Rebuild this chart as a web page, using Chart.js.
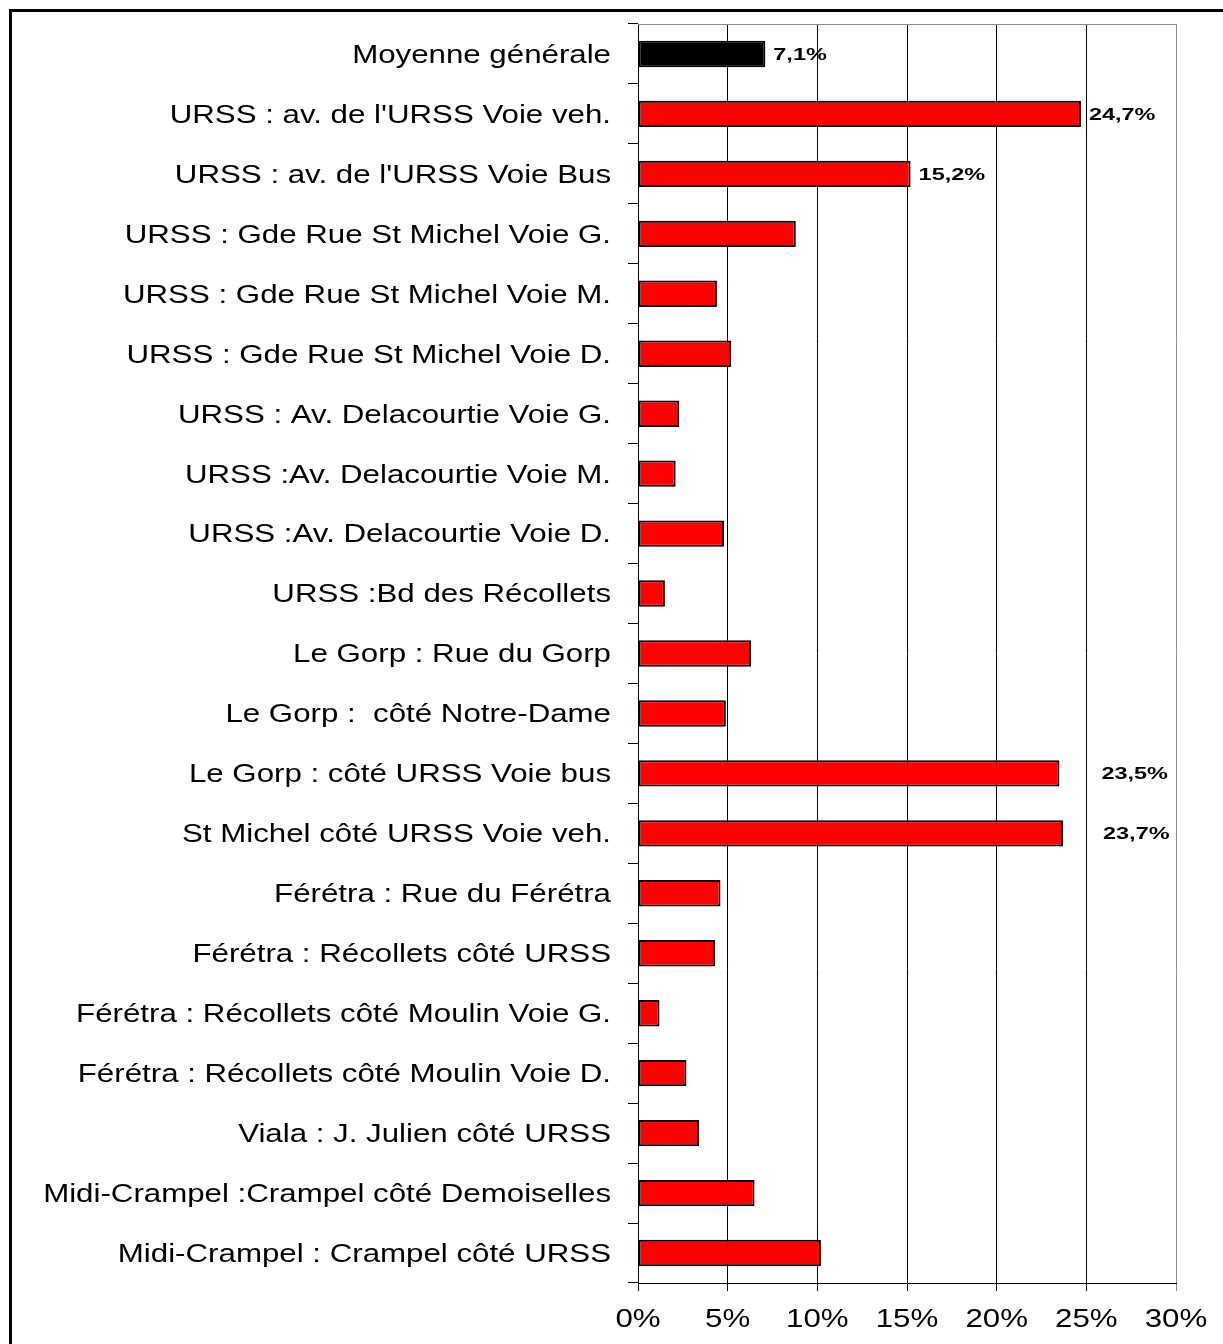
<!DOCTYPE html>
<html lang="fr">
<head>
  <meta charset="UTF-8" />
  <title>Part par point de mesure</title>
  <script src="https://cdn.jsdelivr.net/npm/chart.js"></script>
  <style>
    html, body {
      margin: 0;
      padding: 0;
      background: #fff;
    }
    canvas {
      display: block;
    }
  </style>
</head>
<body>
  <canvas id="partChart" width="1223" height="1344"></canvas>

  <script>
    const categories = [
      "Moyenne générale",
      "URSS : av. de l'URSS Voie veh.",
      "URSS : av. de l'URSS Voie Bus",
      "URSS : Gde Rue St Michel Voie G.",
      "URSS : Gde Rue St Michel Voie M.",
      "URSS : Gde Rue St Michel Voie D.",
      "URSS : Av. Delacourtie Voie G.",
      "URSS :Av. Delacourtie Voie M.",
      "URSS :Av. Delacourtie Voie D.",
      "URSS :Bd des Récollets",
      "Le Gorp : Rue du Gorp",
      "Le Gorp :  côté Notre-Dame",
      "Le Gorp : côté URSS Voie bus",
      "St Michel côté URSS Voie veh.",
      "Férétra : Rue du Férétra",
      "Férétra : Récollets côté URSS",
      "Férétra : Récollets côté Moulin Voie G.",
      "Férétra : Récollets côté Moulin Voie D.",
      "Viala : J. Julien côté URSS",
      "Midi-Crampel :Crampel côté Demoiselles",
      "Midi-Crampel : Crampel côté URSS"
    ];
    const values = [7.1, 24.7, 15.2, 8.8, 4.4, 5.2, 2.3, 2.1, 4.8, 1.5, 6.3,
                    4.9, 23.5, 23.7, 4.6, 4.3, 1.2, 2.7, 3.4, 6.5, 10.2];
    const valueLabels = ["7,1%", "24,7%", "15,2%", null, null, null, null, null, null, null, null,
                         null, "23,5%", "23,7%", null, null, null, null, null, null, null];
    const xTicks = [0, 5, 10, 15, 20, 25, 30];

    const barColors = values.map((v, i) => i === 0 ? "#000000" : "#ff0000");

    // Excel-like wide text: Arial-ish font stretched horizontally
    function wideText(ctx, text, x, y, align, sx) {
      ctx.save();
      ctx.translate(x, y);
      ctx.scale(sx, 1);
      ctx.textAlign = align;
      ctx.textBaseline = "middle";
      ctx.fillText(text, 0, 0);
      ctx.restore();
    }

    const textPlugin = {
      id: "textPlugin",
      beforeDraw(chart) {
        const ctx = chart.ctx;
        ctx.save();
        ctx.fillStyle = "#fff";
        ctx.fillRect(0, 0, chart.width, chart.height);
        ctx.restore();
      },
      afterDraw(chart) {
        const ctx = chart.ctx;
        const area = chart.chartArea;
        const xs = chart.scales.x;
        const ys = chart.scales.y;
        ctx.save();

        // plot area top border (grey)
        ctx.strokeStyle = "#8c8c8c";
        ctx.lineWidth = 1;
        ctx.beginPath();
        ctx.moveTo(area.left, Math.round(area.top) + 0.5);
        ctx.lineTo(area.right, Math.round(area.top) + 0.5);
        ctx.stroke();

        // outer frame (left + top)
        ctx.strokeStyle = "#000";
        ctx.lineWidth = 3;
        ctx.beginPath();
        ctx.moveTo(10.5, chart.height);
        ctx.lineTo(10.5, 10.5);
        ctx.lineTo(chart.width, 10.5);
        ctx.stroke();

        ctx.fillStyle = "#000";

        // category labels
        ctx.font = "25px 'Liberation Sans', Arial, sans-serif";
        categories.forEach((c, i) => {
          wideText(ctx, c, 611, ys.getPixelForValue(i) + 2, "right", 1.25);
        });

        // x tick labels
        xTicks.forEach(v => {
          wideText(ctx, v + "%", xs.getPixelForValue(v), 1320, "center", 1.25);
        });

        // value labels
        const nudge = { 12: 34, 13: 32 };
        ctx.font = "bold 17px 'Liberation Sans', Arial, sans-serif";
        valueLabels.forEach((t, i) => {
          if (!t) return;
          const x = xs.getPixelForValue(values[i]) + 8 + (nudge[i] || 0);
          wideText(ctx, t, x, ys.getPixelForValue(i) + 1, "left", 1.38);
        });

        ctx.restore();
      }
    };

    new Chart(document.getElementById("partChart"), {
      type: "bar",
      data: {
        labels: categories,
        datasets: [{
          data: values,
          backgroundColor: barColors,
          borderColor: "#000",
          borderWidth: 2,
          borderSkipped: false,
          barPercentage: 0.44,
          categoryPercentage: 1
        }]
      },
      options: {
        indexAxis: "y",
        responsive: false,
        animation: false,
        devicePixelRatio: 1,
        layout: { padding: { top: 24, right: 47, left: 0, bottom: 0 } },
        scales: {
          x: {
            min: 0,
            max: 30,
            ticks: { stepSize: 5, display: false },
            grid: {
              color: ctx => ctx.tick && ctx.tick.value === 30 ? "#8c8c8c" : "#000",
              lineWidth: 1,
              tickLength: 8,
              drawTicks: true
            },
            border: { color: "#000", width: 1 },
            afterFit(scale) { scale.height = 61; }
          },
          y: {
            ticks: { display: false },
            grid: {
              offset: true,
              drawOnChartArea: false,
              drawTicks: true,
              tickLength: 10,
              color: "#000"
            },
            border: { color: "#000", width: 1 },
            afterFit(scale) { scale.width = 638; }
          }
        },
        plugins: {
          legend: { display: false },
          tooltip: { enabled: false }
        }
      },
      plugins: [textPlugin]
    });
  </script>
</body>
</html>
